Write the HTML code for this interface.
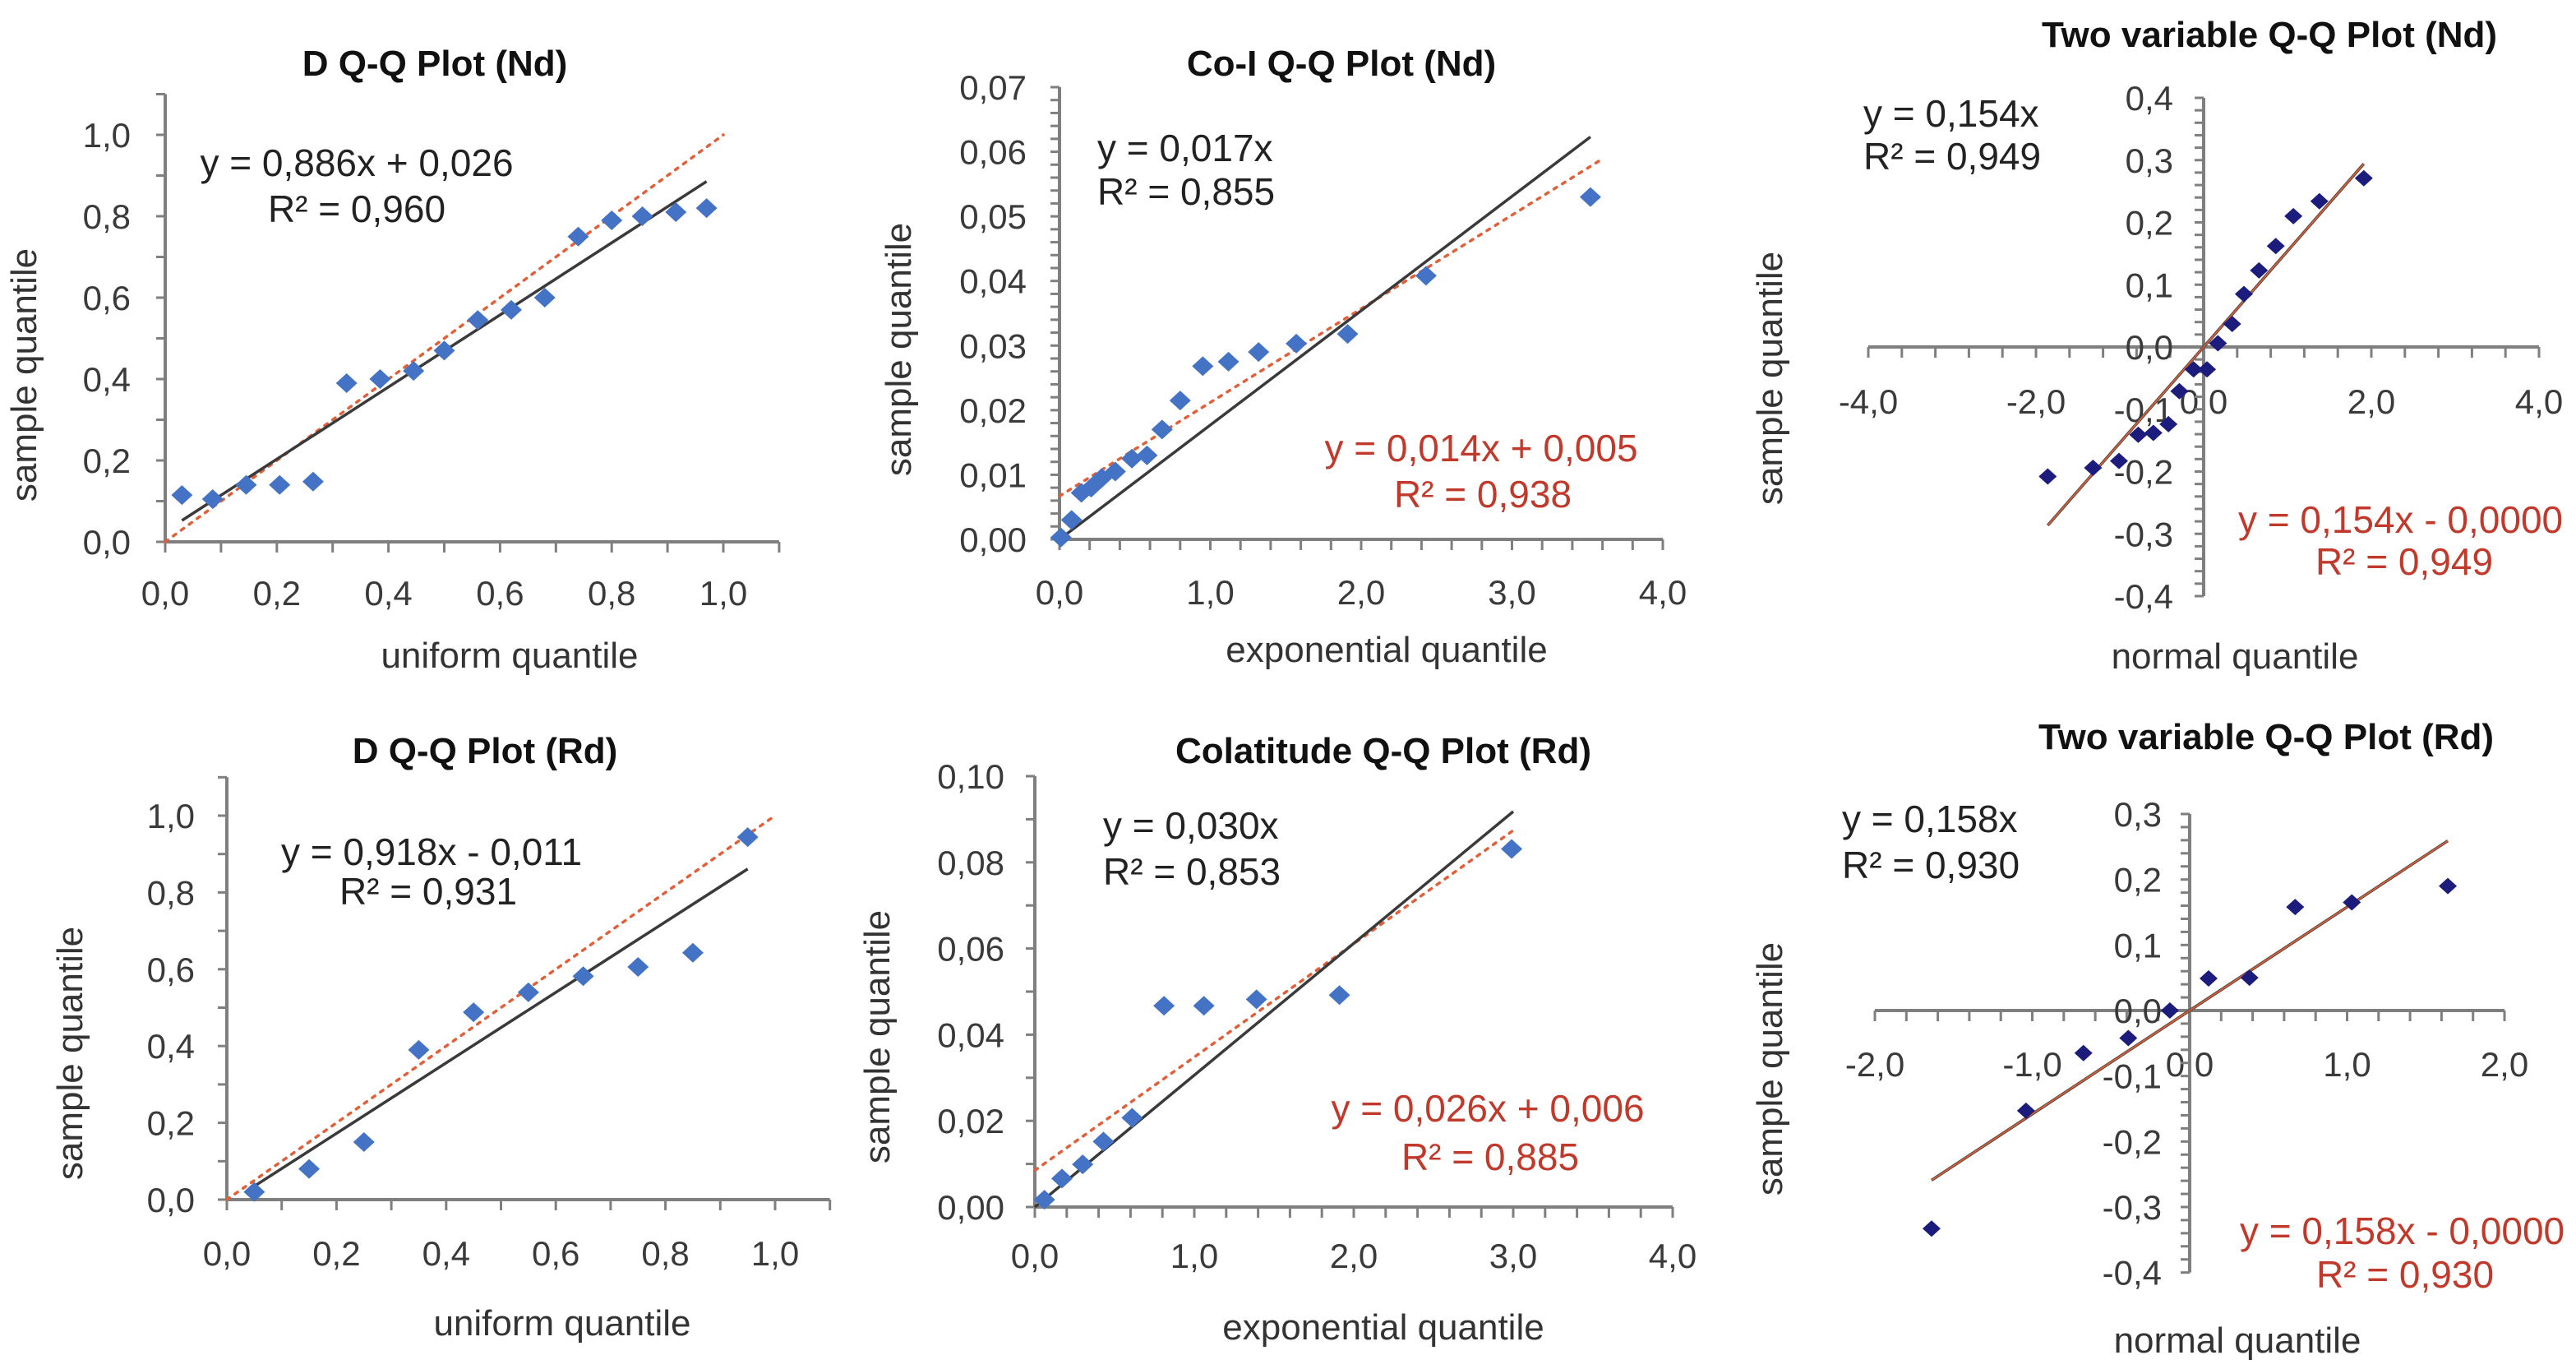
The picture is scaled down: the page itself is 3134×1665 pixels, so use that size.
<!DOCTYPE html>
<html><head><meta charset="utf-8"><style>
html,body{margin:0;padding:0;background:#fff;}
svg{display:block;font-family:"Liberation Sans",Arial,sans-serif;}
</style></head><body>
<svg id="fig" width="3134" height="1665" viewBox="0 0 3134 1665" xmlns="http://www.w3.org/2000/svg"></svg>
<script>
// ---- data ----
const p1X = [0.03,0.085,0.145,0.205,0.265,0.325,0.385,0.445,0.5,0.56,0.62,0.68,0.74,0.8,0.855,0.915,0.97];
const p1Y = [0.115,0.105,0.14,0.14,0.148,0.39,0.40,0.42,0.47,0.545,0.57,0.60,0.75,0.79,0.80,0.81,0.82];
const p1Fit = [0.886,0.026];
const p1Ref = [1.0,0.0];

const p2X = [0.01,0.08,0.145,0.21,0.28,0.37,0.48,0.58,0.68,0.80,0.95,1.12,1.32,1.57,1.91,2.43,3.52];
const p2Y = [0.0003,0.003,0.0072,0.008,0.0095,0.0105,0.0125,0.013,0.017,0.0215,0.0268,0.0275,0.029,0.0303,0.0318,0.0408,0.053];
const p2Fit = [0.0177,0.0];
const p2Ref = [0.0145,0.0067];

const p3X = [-1.86,-1.32,-1.01,-0.78,-0.60,-0.42,-0.29,-0.12,0.04,0.17,0.34,0.48,0.66,0.86,1.07,1.38,1.91];
const p3Y = [-0.208,-0.194,-0.183,-0.141,-0.138,-0.124,-0.071,-0.036,-0.036,0.006,0.037,0.085,0.123,0.162,0.21,0.234,0.271];
const p3Fit = [0.154,0.0];

const p4X = [0.05,0.15,0.25,0.35,0.45,0.55,0.65,0.75,0.85,0.95];
const p4Y = [0.02,0.08,0.15,0.39,0.488,0.54,0.582,0.606,0.643,0.944];
const p4Fit = [0.918,-0.011];
const p4Ref = [1.0,0.0];

const p5X = [0.06,0.17,0.30,0.43,0.61,0.81,1.06,1.39,1.91,2.99];
const p5Y = [0.0017,0.0066,0.0099,0.0152,0.0207,0.0467,0.0467,0.0482,0.0492,0.0831];
const p5Fit = [0.0306,0.0];
const p5Ref = [0.0263,0.0085];

const p6X = [-1.64,-1.04,-0.675,-0.39,-0.126,0.12,0.38,0.67,1.03,1.64];
const p6Y = [-0.333,-0.153,-0.065,-0.042,0.0,0.049,0.05,0.158,0.165,0.19];
const p6Fit = [0.158,0.0];

const NS = "http://www.w3.org/2000/svg";
const svg = document.getElementById("fig");
function el(tag, attrs, parent){
  const e = document.createElementNS(NS, tag);
  for (const k in attrs) e.setAttribute(k, attrs[k]);
  (parent||svg).appendChild(e);
  return e;
}
function fmt(v, d){ return v.toFixed(d).replace('.', ','); }

function panel(c){
  const g = el("g", {});
  
  
  const sx = v => c.px0 + (v - c.vx0) / (c.vx1 - c.vx0) * (c.px1 - c.px0);
  const sy = v => c.py0 + (v - c.vy0) / (c.vy1 - c.vy0) * (c.py1 - c.py0);
  const axC = "#7f7f7f";
  const yAxX = sx(0), xAxY = sy(0);
  const xa = el("line", {x1:sx(c.xMin), x2:sx(c.xMax), y1:xAxY, y2:xAxY, stroke:axC, "stroke-width":4}, g);
  
  
  const nx = Math.round((c.xMax - c.xMin) / c.xMinor);
  for (let i = 0; i <= nx; i++){
    const v = c.xMin + i * c.xMinor;
    el("line", {x1:sx(v), x2:sx(v), y1:xAxY, y2:xAxY + 13, stroke:axC, "stroke-width":3}, g);
  }
  const nxl = Math.round((c.xLabMax - c.xMin) / c.xMajor);
  for (let i = 0; i <= nxl; i++){
    const v = c.xMin + i * c.xMajor;
    const t = el("text", {x:sx(v), y:xAxY + c.xLabOff, "font-size":42, fill:"#3a3a3a", "text-anchor":"middle"}, g);
    t.textContent = fmt(v, c.xDec);
    
    
  }
  const ya = el("line", {x1:yAxX, x2:yAxX, y1:sy(c.yMin), y2:sy(c.yMax), stroke:axC, "stroke-width":4}, g);
  
  
  const ny = Math.round((c.yMax - c.yMin) / c.yMinor);
  for (let i = 0; i <= ny; i++){
    const v = c.yMin + i * c.yMinor;
    el("line", {x1:yAxX - 11, x2:yAxX, y1:sy(v), y2:sy(v), stroke:axC, "stroke-width":3}, g);
  }
  const nyl = Math.round((c.yLabMax - c.yMin) / c.yMajor);
  for (let i = 0; i <= nyl; i++){
    const v = c.yMin + i * c.yMajor;
    const t = el("text", {x:yAxX - c.yLabOff, y:sy(v) + 15, "font-size":42, fill:"#3a3a3a", "text-anchor":"end"}, g);
    t.textContent = fmt(Math.abs(v) < 1e-9 ? 0 : v, c.yDec);
    
    
  }
  if (c.ref){
    const r = el("line", {x1:sx(c.refX[0]), y1:sy(c.ref[0]*c.refX[0]+c.ref[1]), x2:sx(c.refX[1]), y2:sy(c.ref[0]*c.refX[1]+c.ref[1]),
      stroke:"#e0603a", "stroke-width":3.5, "stroke-dasharray":"4 8", "stroke-linecap":"round"}, g);
    
    
  }
  const f = el("line", {x1:sx(c.fitX[0]), y1:sy(c.fit[0]*c.fitX[0]+c.fit[1]), x2:sx(c.fitX[1]), y2:sy(c.fit[0]*c.fitX[1]+c.fit[1]),
    stroke:"#3a3a3a", "stroke-width":3.5}, g);
  
  
  if (c.overlayRed){
    const o = el("line", {x1:sx(c.fitX[0]), y1:sy(c.fit[0]*c.fitX[0]+c.fit[1]), x2:sx(c.fitX[1]), y2:sy(c.fit[0]*c.fitX[1]+c.fit[1]),
      stroke:"#d0603a", "stroke-width":2}, g);
    
    
  }
  for (let i = 0; i < c.xs.length; i++){
    const cx = sx(c.xs[i]), cy = sy(c.ys[i]), w = c.mw, h = c.mh;
    const p = el("polygon", {points:`${cx},${cy-h} ${cx+w},${cy} ${cx},${cy+h} ${cx-w},${cy}`, fill:c.mColor}, g);
    
    
  }
  const ti = el("text", {x:c.title[1], y:c.title[2], "font-size":44, "font-weight":"bold", fill:"#111", "text-anchor":"middle"}, g);
  ti.textContent = c.title[0];
  
  
  const xt = el("text", {x:c.xTitle[1], y:c.xTitle[2], "font-size":44, fill:"#333", "text-anchor":"middle"}, g);
  xt.textContent = c.xTitle[0];
  
  
  const yt = el("text", {x:0, y:0, "font-size":44, fill:"#333", "text-anchor":"middle", transform:`translate(${c.yTitle[0]},${c.yTitle[1]}) rotate(-90)`}, g);
  yt.textContent = "sample quantile";
  
  
  c.eqs.forEach(e => {
    const t = el("text", {x:e[1], y:e[2], "font-size":46, fill:e[3], "text-anchor":e[4]}, g);
    t.textContent = e[0];
    
    
  });
}

const BLUE = "#4472c4", NAVY = "#1c1c7c", RED = "#c0392b", BLK = "#222";

panel({name:"d-qq-plot-nd", px0:201, px1:880, vx0:0, vx1:1, py0:659, py1:164, vy0:0, vy1:1,
  xMin:0, xMax:1.1, xMinor:0.1, xMajor:0.2, xLabMax:1.0, xDec:1, xLabOff:77,
  yMin:0, yMax:1.1, yMinor:0.1, yMajor:0.2, yLabMax:1.0, yDec:1, yLabOff:42,
  xs:p1X, ys:p1Y, fit:p1Fit, fitX:[0.03,0.97], ref:p1Ref, refX:[0,1.0], mColor:BLUE, mw:13, mh:12,
  title:["D Q-Q Plot (Nd)",529,92], xTitle:["uniform quantile",620,812], yTitle:[44,456],
  eqs:[["y = 0,886x + 0,026",434,214,BLK,"middle"],["R² = 0,960",434,270,BLK,"middle"]]});

panel({name:"co-i-qq-plot-nd", px0:1289, px1:2023, vx0:0, vx1:4, py0:656, py1:106, vy0:0, vy1:0.07,
  xMin:0, xMax:4, xMinor:0.2, xMajor:1, xLabMax:4, xDec:1, xLabOff:79,
  yMin:0, yMax:0.07, yMinor:0.002, yMajor:0.01, yLabMax:0.07, yDec:2, yLabOff:40,
  xs:p2X, ys:p2Y, fit:p2Fit, fitX:[0,3.52], ref:p2Ref, refX:[0,3.6], mColor:BLUE, mw:13, mh:12,
  title:["Co-I  Q-Q Plot (Nd)",1632,92], xTitle:["exponential quantile",1687,805], yTitle:[1108,425],
  eqs:[["y = 0,017x",1335,196,BLK,"start"],["R² = 0,855",1335,249,BLK,"start"],
       ["y = 0,014x + 0,005",1802,561,RED,"middle"],["R² = 0,938",1804,617,RED,"middle"]]});

panel({name:"two-variable-qq-plot-nd", px0:2273, px1:3089, vx0:-4, vx1:4, py0:422, py1:119, vy0:0, vy1:0.4,
  xMin:-4, xMax:4, xMinor:0.4, xMajor:2, xLabMax:4, xDec:1, xLabOff:81,
  yMin:-0.4, yMax:0.4, yMinor:0.02, yMajor:0.1, yLabMax:0.4, yDec:1, yLabOff:37,
  xs:p3X, ys:p3Y, fit:p3Fit, fitX:[-1.86,1.91], overlayRed:true, mColor:NAVY, mw:11, mh:10,
  title:["Two variable Q-Q Plot (Nd)",2761,57], xTitle:["normal quantile",2719,813], yTitle:[2168,460],
  eqs:[["y = 0,154x",2267,154,BLK,"start"],["R² = 0,949",2267,206,BLK,"start"],
       ["y = 0,154x - 0,0000",2723,648,RED,"start"],["R² = 0,949",2925,699,RED,"middle"]]});

panel({name:"d-qq-plot-rd", px0:276, px1:943, vx0:0, vx1:1, py0:1459, py1:992, vy0:0, vy1:1,
  xMin:0, xMax:1.1, xMinor:0.1, xMajor:0.2, xLabMax:1.0, xDec:1, xLabOff:80,
  yMin:0, yMax:1.1, yMinor:0.1, yMajor:0.2, yLabMax:1.0, yDec:1, yLabOff:39,
  xs:p4X, ys:p4Y, fit:p4Fit, fitX:[0.05,0.95], ref:p4Ref, refX:[0,1.0], mColor:BLUE, mw:13, mh:12,
  title:["D Q-Q Plot (Rd)",590,928], xTitle:["uniform quantile",684,1624], yTitle:[100,1281],
  eqs:[["y = 0,918x - 0,011",525,1052,BLK,"middle"],["R² = 0,931",521,1100,BLK,"middle"]]});

panel({name:"colatitude-qq-plot-rd", px0:1259, px1:2035, vx0:0, vx1:4, py0:1468, py1:944, vy0:0, vy1:0.1,
  xMin:0, xMax:4, xMinor:0.2, xMajor:1, xLabMax:4, xDec:1, xLabOff:74,
  yMin:0, yMax:0.1, yMinor:0.01, yMajor:0.02, yLabMax:0.1, yDec:2, yLabOff:37,
  xs:p5X, ys:p5Y, fit:p5Fit, fitX:[0,3.0], ref:p5Ref, refX:[0,3.0], mColor:BLUE, mw:13, mh:12,
  title:["Colatitude Q-Q Plot (Rd)",1683,928], xTitle:["exponential quantile",1683,1629], yTitle:[1082,1261],
  eqs:[["y = 0,030x",1342,1020,BLK,"start"],["R² = 0,853",1342,1076,BLK,"start"],
       ["y = 0,026x + 0,006",1810,1364,RED,"middle"],["R² = 0,885",1813,1423,RED,"middle"]]});

panel({name:"two-variable-qq-plot-rd", px0:2281, px1:3047, vx0:-2, vx1:2, py0:1229, py1:990, vy0:0, vy1:0.3,
  xMin:-2, xMax:2, xMinor:0.2, xMajor:1, xLabMax:2, xDec:1, xLabOff:80,
  yMin:-0.4, yMax:0.3, yMinor:0.02, yMajor:0.1, yLabMax:0.3, yDec:1, yLabOff:34,
  xs:p6X, ys:p6Y, fit:p6Fit, fitX:[-1.64,1.64], overlayRed:true, mColor:NAVY, mw:11, mh:10,
  title:["Two variable Q-Q Plot (Rd)",2757,911], xTitle:["normal quantile",2722,1645], yTitle:[2168,1300],
  eqs:[["y = 0,158x",2241,1012,BLK,"start"],["R² = 0,930",2241,1068,BLK,"start"],
       ["y = 0,158x - 0,0000",2725,1513,RED,"start"],["R² = 0,930",2926,1566,RED,"middle"]]});
</script>
</body></html>
